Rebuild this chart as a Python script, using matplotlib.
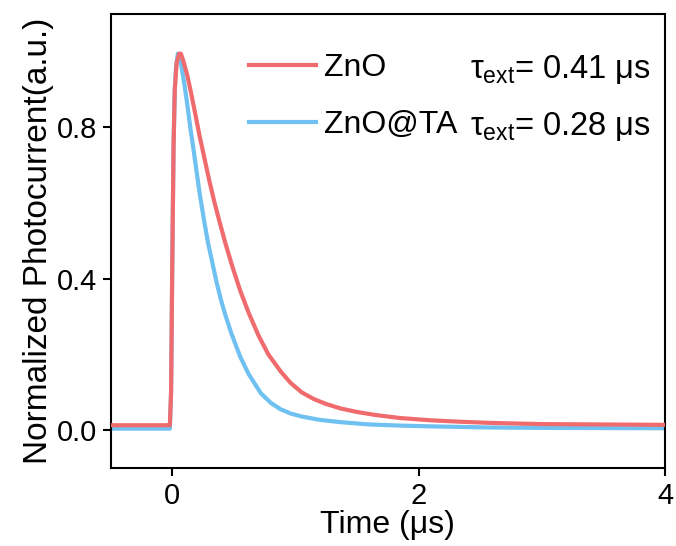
import matplotlib
matplotlib.use('Agg')
import matplotlib.pyplot as plt

plt.rcParams['font.family'] = ['Liberation Sans', 'DejaVu Sans']
plt.rcParams['mathtext.fontset'] = 'custom'
plt.rcParams['mathtext.rm'] = 'Liberation Sans'
plt.rcParams['mathtext.it'] = 'Liberation Sans'

# values (time in us, normalized current)
t_zno = [-0.5, -0.02, -0.01, 0.0, 0.01, 0.02, 0.035, 0.055, 0.07, 0.09,
         0.12, 0.15, 0.19, 0.22, 0.26, 0.30, 0.34, 0.38, 0.43, 0.49,
         0.55, 0.62, 0.70, 0.78, 0.88, 0.96, 1.05, 1.15, 1.25, 1.37,
         1.50, 1.65, 1.85, 2.10, 2.35, 2.60, 3.0, 3.5, 4.0]
i_zno = [0.013, 0.013, 0.10, 0.45, 0.75, 0.90, 0.97, 0.995, 0.995, 0.975,
         0.94, 0.895, 0.83, 0.78, 0.72, 0.66, 0.605, 0.555, 0.495, 0.43,
         0.37, 0.31, 0.25, 0.20, 0.155, 0.125, 0.100, 0.082, 0.069, 0.057,
         0.048, 0.040, 0.032, 0.026, 0.022, 0.019, 0.016, 0.015, 0.014]

t_ta = [-0.5, -0.02, -0.01, 0.0, 0.01, 0.02, 0.03, 0.045, 0.06, 0.08,
        0.10, 0.12, 0.15, 0.16, 0.19, 0.22, 0.257, 0.29, 0.33, 0.36,
        0.397, 0.43, 0.48, 0.55, 0.62, 0.72, 0.80, 0.88, 0.96, 1.05,
        1.20, 1.37, 1.60, 1.85, 2.10, 2.58, 3.0, 4.0]
i_ta = [0.004, 0.004, 0.10, 0.45, 0.75, 0.90, 0.96, 0.995, 0.99, 0.95,
        0.91, 0.865, 0.79, 0.77, 0.70, 0.63, 0.556, 0.495, 0.435, 0.39,
        0.342, 0.305, 0.255, 0.195, 0.148, 0.097, 0.072, 0.055, 0.044, 0.036,
        0.027, 0.021, 0.015, 0.012, 0.010, 0.007, 0.006, 0.005]

labels = ['ZnO', 'ZnO@TA']
taus = ['0.41', '0.28']
colors = ['#F06B6E', '#6EC1F0']

fig = plt.figure(figsize=(6.76, 5.46), dpi=100)
ax = fig.add_axes([0.1638, 0.1429, 0.8199, 0.8315])

ax.plot(t_ta, i_ta, color=colors[1], linewidth=3, label=labels[1], zorder=2)
ax.plot(t_zno, i_zno, color=colors[0], linewidth=3, label=labels[0], zorder=3)

ax.set_xlim(-0.5, 4)
ax.set_ylim(-0.10, 1.10)
ax.set_xticks([0, 2, 4])
ax.set_yticks([0.0, 0.4, 0.8])
ax.set_yticklabels(['0.0', '0.4', '0.8'])
ax.tick_params(direction='out', length=6, width=1.5, labelsize=21, pad=4)
for s in ax.spines.values():
    s.set_linewidth(1.5)

ax.set_xlabel('Time (μs)', fontsize=23, labelpad=0)
ax.set_ylabel('Normalized Photocurrent(a.u.)', fontsize=24, labelpad=2)

h, l = ax.get_legend_handles_labels()
leg = ax.legend(h[::-1], l[::-1], loc='upper left', bbox_to_anchor=(0.25, 0.9135),
                frameon=False, fontsize=23, handlelength=2.1, handletextpad=0.25,
                labelspacing=0.83, borderaxespad=0, borderpad=0)

for k, tau in enumerate(taus):
    ax.text(0.648, 0.877 - k * 0.124, r'$\tau_{\rm ext}$= ' + tau + ' μs',
            transform=ax.transAxes, fontsize=23.5, va='center', ha='left')

fig.savefig('out.png', dpi=100)
